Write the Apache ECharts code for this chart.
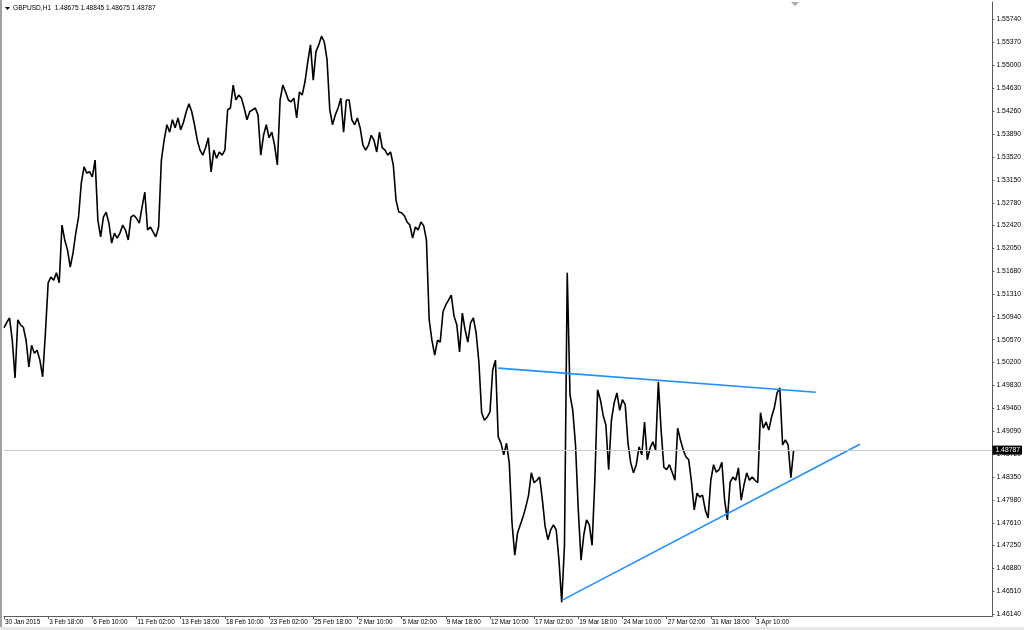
<!DOCTYPE html>
<html><head><meta charset="utf-8">
<script src="https://cdn.jsdelivr.net/npm/echarts@6/dist/echarts.min.js"></script>
<style>html,body{margin:0;padding:0;background:#fff}#c{width:1024px;height:630px}</style>
</head><body><div id="c"></div>
<script>
// Time-axis tick labels (one every 64 hourly bars = 16 four-hour steps)
const timeLabels = ['30 Jan 2015','3 Feb 18:00','6 Feb 10:00','11 Feb 02:00','13 Feb 18:00','18 Feb 10:00','23 Feb 02:00','25 Feb 18:00','2 Mar 10:00','5 Mar 02:00','9 Mar 18:00','12 Mar 10:00','17 Mar 02:00','19 Mar 18:00','24 Mar 10:00','27 Mar 02:00','31 Mar 18:00','3 Apr 10:00'];
// Price-axis tick labels
const priceTicks = [1.55740,1.55370,1.55000,1.54630,1.54260,1.53890,1.53520,1.53150,1.52780,1.52420,1.52050,1.51680,1.51310,1.50940,1.50570,1.50200,1.49830,1.49460,1.49090,1.48720,1.48350,1.47980,1.47610,1.47250,1.46880,1.46510,1.46140];
// GBPUSD price path, read at ~4-hour steps
const prices = [
1.5076,1.5085,1.5092,1.5056,1.4995,1.5089,1.5081,1.5077,1.5056,1.5013,
1.5048,1.5035,1.5040,1.5024,1.4997,1.5068,1.5149,1.5158,1.5153,1.5165,
1.5149,1.5242,1.5218,1.5202,1.5174,1.5197,1.5229,1.5255,1.5310,1.5336,
1.5326,1.5328,1.5320,1.5347,1.5250,1.5223,1.5255,1.5263,1.5245,1.5213,
1.5229,1.5221,1.5229,1.5242,1.5234,1.5218,1.5255,1.5258,1.5253,1.5245,
1.5271,1.5295,1.5234,1.5239,1.5231,1.5223,1.5239,1.5347,1.5379,1.5404,
1.5392,1.5412,1.5399,1.5415,1.5396,1.5408,1.5425,1.5438,1.5425,1.5404,
1.5379,1.5363,1.5355,1.5367,1.5383,1.5328,1.5363,1.5350,1.5360,1.5355,
1.5363,1.5428,1.5431,1.5468,1.5444,1.5452,1.5447,1.5431,1.5412,1.5425,
1.5428,1.5431,1.5420,1.5355,1.5387,1.5404,1.5383,1.5392,1.5371,1.5339,
1.5444,1.5468,1.5457,1.5444,1.5441,1.5447,1.5415,1.5457,1.5452,1.5473,
1.5505,1.5533,1.5476,1.5522,1.5533,1.5547,1.5538,1.5509,1.5428,1.5404,
1.5420,1.5431,1.5447,1.5392,1.5444,1.5444,1.5412,1.5404,1.5415,1.5399,
1.5371,1.5363,1.5371,1.5387,1.5379,1.5360,1.5392,1.5367,1.5363,1.5355,
1.5360,1.5339,1.5282,1.5263,1.5262,1.5257,1.5247,1.5242,1.5221,1.5239,
1.5234,1.5247,1.5241,1.5218,1.5089,1.5056,1.5032,1.5056,1.5053,1.5102,
1.5113,1.5121,1.5129,1.5095,1.5081,1.5037,1.5100,1.5073,1.5053,1.5084,
1.5092,1.5068,1.5021,1.4939,1.4927,1.4932,1.4940,1.5008,1.5024,1.4900,
1.4890,1.4871,1.4890,1.4858,1.4761,1.4709,1.4745,1.4758,1.4771,1.4787,
1.4806,1.4842,1.4826,1.4830,1.4835,1.4798,1.4755,1.4734,1.4750,1.4758,
1.4750,1.4701,1.4633,1.4725,1.5165,1.4968,1.4943,1.4887,1.4782,1.4701,
1.4742,1.4766,1.4758,1.4725,1.4830,1.4976,1.4960,1.4935,1.4919,1.4847,
1.4927,1.4955,1.4971,1.4943,1.4960,1.4952,1.4890,1.4858,1.4842,1.4855,
1.4884,1.4871,1.4924,1.4863,1.4882,1.4892,1.4879,1.4989,1.4911,1.4851,
1.4847,1.4855,1.4843,1.4830,1.4914,1.4895,1.4879,1.4868,1.4863,1.4827,
1.4782,1.4809,1.4803,1.4806,1.4782,1.4769,1.4830,1.4855,1.4843,1.4847,
1.4859,1.4798,1.4766,1.4827,1.4835,1.4830,1.4850,1.4798,1.4822,1.4842,
1.4830,1.4835,1.4830,1.4826,1.4939,1.4914,1.4924,1.4911,1.4932,1.4947,
1.4971,1.4979,1.4887,1.4895,1.4887,1.4834,1.48787
];
// Hand-drawn trendlines: [step index, price]
const upperTrend = [[179, 1.5011], [294, 1.4972]];
const lowerTrend = [[202, 1.4636], [310, 1.4888]];
const currentPrice = 1.48787;
const headerText = 'GBPUSD,H1  1.48675 1.48845 1.48675 1.48787';

const STEPS_PER_LABEL = 16;
const TOTAL_STEPS = 359;
const categories = [];
for (let i = 0; i < TOTAL_STEPS; i++) {
  const k = i / STEPS_PER_LABEL;
  categories.push(i % STEPS_PER_LABEL === 0 && k < timeLabels.length ? timeLabels[k] : '');
}
const isLabel = (i) => i % STEPS_PER_LABEL === 0 && i / STEPS_PER_LABEL < timeLabels.length;

const chart = echarts.init(document.getElementById('c'), null, {renderer: 'canvas'});
const font = 'Liberation Sans, Arial, sans-serif';
chart.setOption({
  animation: false,
  backgroundColor: '#ffffff',
  grid: {left: 4, right: 30, top: 2, bottom: 14, containLabel: false},
  xAxis: {
    type: 'category', data: categories, boundaryGap: false,
    axisLine: {show: true, lineStyle: {color: '#5a5a5a', width: 1}},
    axisTick: {show: true, interval: (i) => isLabel(i), length: 3, lineStyle: {color: '#5a5a5a'}},
    axisLabel: {show: true, interval: (i) => isLabel(i), align: 'left', margin: 3, padding: [0,0,0,1],
      color: '#000', fontSize: 6.4, fontFamily: font},
    splitLine: {show: false}
  },
  yAxis: {
    type: 'value', position: 'right', min: 1.46108, max: 1.56022, scale: true,
    axisLine: {show: true, lineStyle: {color: '#5a5a5a', width: 1}},
    axisTick: {show: true, customValues: priceTicks, length: 2, lineStyle: {color: '#5a5a5a'}},
    axisLabel: {show: true, customValues: priceTicks, margin: 4, color: '#000', fontSize: 6.8, fontFamily: font,
      formatter: (v) => v.toFixed(5)},
    splitLine: {show: false}
  },
  graphic: [
    {type: 'rect', shape: {x: 0, y: 0, width: 2, height: 630}, style: {fill: '#a0a0a0'}, z: 10},
    {type: 'rect', shape: {x: 0, y: 627, width: 1024, height: 3}, style: {fill: '#e6e6e6'}, z: 10},
    {type: 'polygon', shape: {points: [[5, 7], [10, 7], [7.5, 10]]}, style: {fill: '#000'}, z: 10},
    {type: 'text', x: 13, y: 5, style: {text: headerText, fill: '#000', font: '6.6px ' + font}, z: 10},
    {type: 'polygon', shape: {points: [[791, 2], [799, 2], [795, 6]]}, style: {fill: '#a8a8a8'}, z: 10}
  ],
  series: [
    {
      type: 'line', data: prices, symbol: 'none', z: 3,
      lineStyle: {color: '#000', width: 1.6},
      markLine: {
        silent: true, symbol: ['none', 'none'], precision: 5,
        lineStyle: {color: '#c8c8c8', type: 'solid', width: 1},
        label: {position: 'end', distance: 0, formatter: currentPrice.toFixed(5),
          backgroundColor: '#000', color: '#fff', fontSize: 6.8, fontFamily: font, padding: [1, 2, 1, 3]},
        data: [{yAxis: currentPrice}]
      }
    },
    {type: 'line', data: upperTrend, symbol: 'none', z: 4, lineStyle: {color: '#1e90ff', width: 1.6}},
    {type: 'line', data: lowerTrend, symbol: 'none', z: 4, lineStyle: {color: '#1e90ff', width: 1.6}}
  ]
});
</script>
</body></html>
